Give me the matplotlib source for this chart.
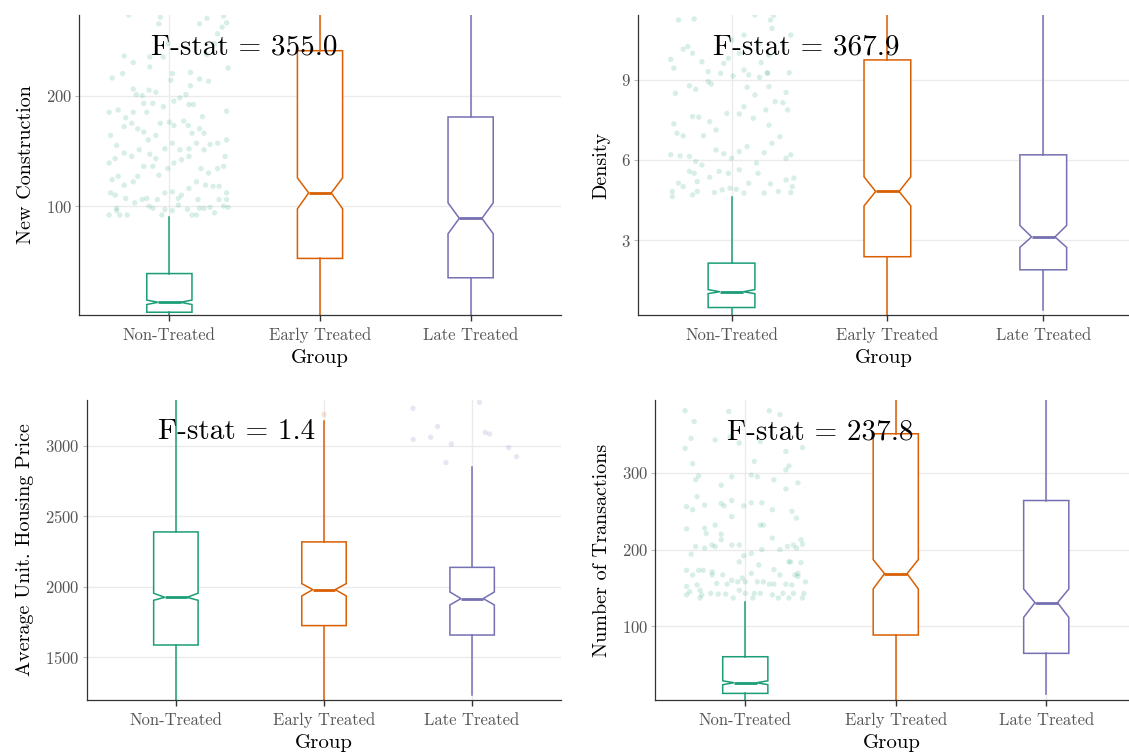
import numpy as np
import matplotlib
matplotlib.use("Agg")
import matplotlib.pyplot as plt

plt.rcParams['font.family'] = 'cmr10'
plt.rcParams['axes.formatter.use_mathtext'] = True

groups = ['Non-Treated', 'Early Treated', 'Late Treated']
colors = ['#1B9E77', '#D95F02', '#7570B3']

# box statistics: q1, median, q3, whisker low/high, notch low/high
constr_q1 = [4, 52.7, 35.2]
constr_med = [13, 112, 89]
constr_q3 = [39, 240.7, 180.7]
constr_wlo = [0, 0, 0]
constr_whi = [90.4, 500, 500]
constr_cilo = [11, 97.6, 75]
constr_cihi = [15, 125.6, 103]

dens_q1 = [0.48, 2.38, 1.89]
dens_med = [1.07, 4.82, 3.12]
dens_q3 = [2.14, 9.74, 6.19]
dens_wlo = [0, 0, 0.4]
dens_whi = [4.61, 20, 20]
dens_cilo = [1.0, 4.28, 2.73]
dens_cihi = [1.15, 5.37, 3.55]

price_q1 = [1585, 1723, 1656]
price_med = [1924, 1979, 1915]
price_q3 = [2389, 2318, 2137]
price_wlo = [1000, 1000, 1227]
price_whi = [4000, 3180, 2853]
price_cilo = [1903, 1934, 1870]
price_cihi = [1953, 2021, 1962]

trans_q1 = [12.6, 88.7, 64.8]
trans_med = [26.5, 168.7, 130.9]
trans_q3 = [60.4, 351, 264]
trans_wlo = [3, 0, 11.7]
trans_whi = [132, 600, 600]
trans_cilo = [24, 148.7, 111.7]
trans_cihi = [29, 187, 148.7]

f_stats = ['355.0', '367.9', '1.4', '237.8']
ylabels = ['New Construction', 'Density', 'Average Unit. Housing Price', 'Number of Transactions']

# outliers (group index, jitter offset, value)
constr_out_x = [-0.40, -0.33, -0.28, -0.35, -0.35, -0.135, -0.11, -0.05, -0.03, 0.02, 0.06, 0.12, 0.15, 0.18, 0.2, 0.23, 0.27, 0.3, 0.33, 0.36, 0.39, 0.38,
                -0.39, -0.36, -0.29, -0.23, -0.18, -0.15, -0.08, -0.03, 0.02, 0.06, 0.08, 0.13, 0.19, 0.24, 0.29, 0.33, 0.38,
                -0.38, -0.34, -0.30, -0.24, -0.21, -0.17, -0.11, -0.07, -0.01, 0.03, 0.08, 0.13, 0.18, 0.21, 0.26, 0.32, 0.36,
                -0.40, -0.36, -0.30, -0.25, -0.2, -0.13, -0.09, -0.03, 0.02, 0.07, 0.13, 0.18, 0.23, 0.27, 0.32, 0.38, 0.37,
                -0.39, -0.35, -0.30, -0.25, -0.21, -0.17, -0.14, -0.09, -0.06, 0.0, 0.03, 0.095, 0.125, 0.15, 0.2, 0.23,
                -0.40, -0.34, -0.29, -0.24, -0.17, -0.15, -0.11, -0.04, 0.03, 0.07, 0.13, 0.16, 0.22, 0.38,
                -0.38, -0.31, -0.24, -0.22, -0.18, -0.135, -0.09, 0.01, 0.11, 0.14, 0.2, 0.26, 0.39,
                -0.30, -0.24, -0.13, -0.13, -0.04, 0.02, 0.14, 0.25, 0.3, 0.32, 0.35, 0.38,
                -0.07, -0.06, 0.2, 0.25, 0.36, -0.27, -0.01]
constr_out_y = [92, 92, 92, 98, 96, 100, 98, 92, 97, 96, 101, 97, 92, 92, 98, 98, 99, 94, 106, 100, 99, 106,
                112, 110, 107, 103, 106, 107, 106, 112, 113, 107, 110, 116, 106, 119, 118, 118, 112,
                124, 127, 119, 122, 127, 136, 136, 128, 134, 139, 142, 145, 122, 134, 130, 134, 136,
                139, 143, 148, 145, 151, 147, 143, 152, 157, 151, 152, 157, 151, 156, 157, 160, 145,
                164, 155, 172, 175, 170, 167, 160, 164, 175, 176, 173, 177, 173, 166, 170, 166,
                185, 187, 180, 185, 193, 185, 193, 190, 195, 198, 192, 192, 181, 186,
                216, 220, 206, 201, 200, 205, 203, 214, 201, 209, 215, 213, 225,
                236, 230, 226, 235, 235, 220, 221, 237, 247, 256, 262, 266,
                265, 271, 265, 270, 272, 273, 247]

dens_out_x = [-0.38, -0.38, -0.25, -0.22, -0.11, -0.06, -0.01, 0.03, 0.08, 0.11, 0.21, 0.3, 0.38, 0.39,
              -0.34, -0.31, -0.27, -0.24, -0.22, -0.14, -0.08, -0.02, 0.05, 0.17, 0.25, 0.35, 0.4,
              -0.39, -0.33, -0.27, -0.23, -0.19, -0.10, -0.05, 0.0, 0.05, 0.10, 0.16, 0.21, 0.26, 0.31, 0.35, 0.38,
              -0.35, -0.31, -0.37, -0.25, -0.21, -0.18, -0.14, -0.10, -0.03, 0.05, 0.08, 0.14, 0.22, 0.24, 0.28, 0.33, 0.36,
              -0.36, -0.27, -0.23, -0.15, -0.13, -0.07, 0.01, 0.10, 0.15, 0.18, 0.23, 0.24, 0.35, 0.37,
              -0.39, -0.37, -0.25, -0.19, -0.15, -0.05, -0.02, 0.05, 0.08, 0.11, 0.19, 0.23,
              -0.31, -0.28, 0.0, 0.08, 0.18, 0.24, 0.33, 0.38, 0.26,
              -0.34, -0.24, 0.15, 0.25, 0.27]
dens_out_y = [4.63, 4.82, 4.69, 4.82, 4.78, 4.88, 4.94, 4.9, 4.76, 5.13, 4.76, 4.82, 4.78, 5.0,
              5.13, 5.0, 5.57, 5.5, 5.19, 5.35, 5.57, 5.5, 5.63, 5.5, 5.1, 5.25, 5.32,
              6.19, 6.15, 6.13, 5.94, 5.81, 6.37, 6.23, 6.06, 6.31, 6.5, 5.88, 6.27, 6.62, 6.87, 6.06, 6.19,
              7.0, 6.9, 7.35, 7.62, 7.6, 6.9, 7.43, 7.12, 7.74, 7.72, 7.99, 7.56, 7.87, 7.3, 8.18, 8.14, 7.87,
              8.49, 8.77, 8.64, 8.93, 8.84, 9.24, 9.14, 8.72, 8.43, 9.09, 9.24, 8.74, 8.52, 9.26,
              9.76, 9.43, 9.99, 9.67, 9.3, 9.61, 9.8, 9.99, 9.36, 9.18, 9.64, 9.26,
              10.14, 10.24, 10.48, 10.67, 10.36, 9.92, 10.36, 10.67, 10.92,
              11.23, 11.27, 11.42, 11.23, 11.4]

price_out_g = [1, 2, 2, 2, 2, 2, 2, 2, 2, 2, 2, 2]
price_out_x = [0.0, -0.40, -0.398, -0.28, -0.233, -0.177, -0.14, 0.049, 0.088, 0.118, 0.246, 0.30]
price_out_y = [3225, 3268, 3047, 3062, 3138, 2882, 3014, 3311, 3097, 3085, 2988, 2924]

trans_out_x = [-0.39, -0.37, -0.30, -0.29, -0.23, -0.18, -0.13, -0.08, -0.04, 0.0, 0.05, 0.06, 0.10, 0.18, 0.22, 0.25, 0.29, 0.32, 0.38, 0.39,
               -0.39, -0.32, -0.30, -0.22, -0.19, -0.12, -0.09, -0.05, -0.02, 0.0, 0.04, 0.08, 0.12, 0.16, 0.19, 0.23, 0.27, 0.31, 0.35, 0.40,
               -0.39, -0.35, -0.31, -0.28, -0.22, -0.15, -0.04, -0.01, 0.04, 0.09, 0.19, 0.29, 0.30, 0.33, 0.35, 0.37,
               -0.36, -0.33, -0.27, -0.22, -0.20, -0.16, -0.09, -0.04, 0.11, 0.18, 0.23, 0.28, 0.32, 0.34, 0.37, 0.38,
               -0.39, -0.27, -0.26, -0.20, -0.16, -0.09, 0.10, 0.12, 0.18, 0.31, 0.34,
               -0.39, -0.35, -0.32, -0.27, -0.16, -0.14, -0.09, -0.01, 0.04, 0.11, 0.19, 0.27, 0.35,
               -0.33, -0.31, -0.16, -0.09, 0.04, 0.08, 0.27, 0.29,
               -0.35, 0.06, 0.27, 0.38, -0.40, -0.20, -0.04, 0.23, 0.16, -0.11, -0.40, -0.34, -0.36, -0.10, 0.10]
trans_out_y = [141, 145, 137, 141, 143, 142, 142, 137, 147, 143, 137, 143, 143, 141, 137, 143, 137, 143, 137, 143,
               152, 154, 147, 167, 156, 155, 160, 158, 163, 158, 169, 158, 158, 155, 155, 167, 155, 154, 169, 158,
               173, 167, 173, 173, 171, 167, 184, 192, 195, 180, 174, 184, 184, 167, 165, 183,
               194, 204, 202, 206, 204, 213, 206, 206, 200, 215, 200, 204, 206, 202, 213, 207,
               227, 228, 221, 232, 220, 243, 232, 232, 252, 250, 241,
               256, 252, 269, 258, 260, 257, 264, 257, 261, 261, 291, 279, 287,
               291, 296, 284, 295, 297, 295, 304, 309,
               312, 315, 328, 333, 332, 343, 339, 376, 381, 380, 381, 367, 345, 347, 341]

panels = [
    dict(q1=constr_q1, med=constr_med, q3=constr_q3, wlo=constr_wlo, whi=constr_whi, cilo=constr_cilo, cihi=constr_cihi,
         og=[0] * len(constr_out_x), ox=constr_out_x, oy=constr_out_y, ylim=(1.5, 273), yticks=[100, 200],
         pos=[79, 15, 482, 300], xlim=(0.4, 3.6)),
    dict(q1=dens_q1, med=dens_med, q3=dens_q3, wlo=dens_wlo, whi=dens_whi, cilo=dens_cilo, cihi=dens_cihi,
         og=[0] * len(dens_out_x), ox=dens_out_x, oy=dens_out_y, ylim=(0.2, 11.42), yticks=[3, 6, 9],
         pos=[638, 15, 491, 300], xlim=(0.4, 3.55)),
    dict(q1=price_q1, med=price_med, q3=price_q3, wlo=price_wlo, whi=price_whi, cilo=price_cilo, cihi=price_cihi,
         og=price_out_g, ox=price_out_x, oy=price_out_y, ylim=(1194, 3327), yticks=[1500, 2000, 2500, 3000],
         pos=[87, 400, 474, 300], xlim=(0.4, 3.6)),
    dict(q1=trans_q1, med=trans_med, q3=trans_q3, wlo=trans_wlo, whi=trans_whi, cilo=trans_cilo, cihi=trans_cihi,
         og=[0] * len(trans_out_x), ox=trans_out_x, oy=trans_out_y, ylim=(4, 395), yticks=[100, 200, 300],
         pos=[655, 400, 474, 300], xlim=(0.4, 3.55)),
]

W, H = 1129, 753
fig = plt.figure(figsize=(W / 100, H / 100), dpi=100)

for i, p in enumerate(panels):
    l, t, w, h = p['pos']
    ax = fig.add_axes([l / W, 1 - (t + h) / H, w / W, h / H])
    ax.grid(True, color='#EBEBEB', linewidth=1.0, zorder=0)
    ax.set_axisbelow(True)

    # jittered outliers
    ox = np.array(p['og']) + 1 + np.array(p['ox'])
    pc = [colors[g] for g in p['og']]
    ax.scatter(ox, p['oy'], s=15, c=pc, alpha=0.17, linewidths=0, zorder=1)

    for g in range(3):
        stats = [dict(q1=p['q1'][g], med=p['med'][g], q3=p['q3'][g], whislo=p['wlo'][g],
                      whishi=p['whi'][g], cilo=p['cilo'][g], cihi=p['cihi'][g], fliers=[])]
        c = colors[g]
        ax.bxp(stats, positions=[g + 1], widths=0.3, shownotches=True, showcaps=False,
               showfliers=False, patch_artist=True, manage_ticks=False,
               boxprops=dict(facecolor='white', edgecolor=c, linewidth=1.1),
               whiskerprops=dict(color=c, linewidth=1.1),
               medianprops=dict(color=c, linewidth=2.0),
               zorder=2)

    ax.set_xlim(*p['xlim'])
    ax.set_ylim(*p['ylim'])
    ax.set_yticks(p['yticks'])
    ax.set_xticks([1, 2, 3])
    ax.set_xticklabels(groups, va='baseline')

    for s in ['top', 'right']:
        ax.spines[s].set_visible(False)
    for s in ['left', 'bottom']:
        ax.spines[s].set_color('#333333')
        ax.spines[s].set_linewidth(0.9)
    ax.tick_params(axis='x', length=4, width=1, color='#333333', labelsize=12, labelcolor='#555555', pad=14)
    ax.tick_params(axis='y', length=3, width=0.8, color='#BBBBBB', labelsize=12, labelcolor='#555555', pad=2)
    ax.set_xlabel('Group', fontsize=15, labelpad=4)
    ax.set_ylabel(ylabels[i], fontsize=14.5, labelpad=8)
    ax.text(0.88, 0.893, 'F-stat = ' + f_stats[i], transform=ax.get_xaxis_transform(),
            ha='left', va='center', fontsize=21, zorder=5)

fig.savefig('out.png', dpi=100)
